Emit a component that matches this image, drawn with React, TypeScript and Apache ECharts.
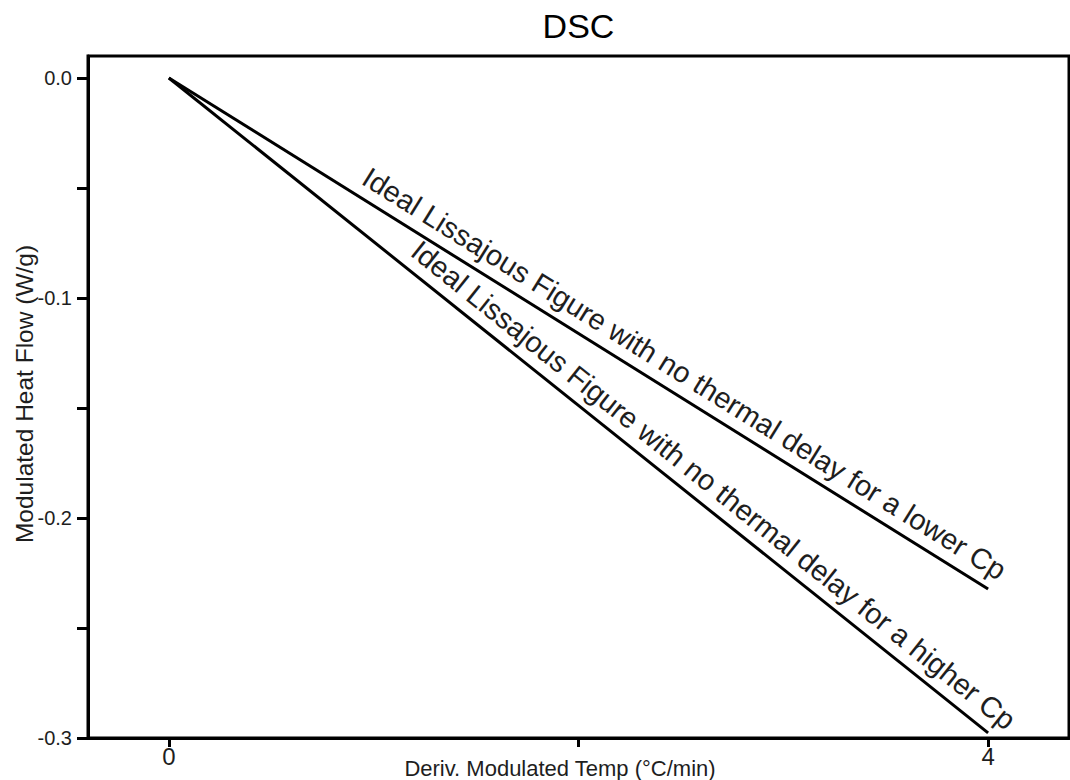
import React, { useEffect, useRef } from 'react';
import * as echarts from 'echarts';

const titleText = 'DSC';
const xAxisTitle = 'Deriv. Modulated Temp (°C/min)';
const yAxisTitle = 'Modulated Heat Flow (W/g)';
const xLabelValues = [0, 4];
const xTickValues = [0, 2, 4];
const yLabelValues = [-0.3, -0.2, -0.1, 0];
const yTickValues = [-0.3, -0.25, -0.2, -0.15, -0.1, -0.05, 0];
const lowerCpLine = [
  [0, 0],
  [4, -0.2323],
];
const higherCpLine = [
  [0, 0],
  [4, -0.2977],
];
const lowerCpLabel = 'Ideal Lissajous Figure with no thermal delay for a lower Cp';
const higherCpLabel = 'Ideal Lissajous Figure with no thermal delay for a higher Cp';

const FONT = '"Liberation Sans", Arial, Helvetica, sans-serif';
const TEXT_COLOR = '#1e1e1e';

export default function App() {
  const ref = useRef<HTMLDivElement>(null);

  useEffect(() => {
    if (!ref.current) return;
    const chart = echarts.init(ref.current, undefined, { renderer: 'svg' });
    const grid = { left: 88, right: 1, top: 56, bottom: 42 };
    const option: any = {
      animation: false,
      backgroundColor: '#ffffff',
      grid: {
        ...grid,
        show: true,
        borderColor: '#000',
        borderWidth: 3,
        backgroundColor: 'transparent',
      },
      xAxis: {
        type: 'value',
        min: -0.395,
        max: 4.395,
        splitLine: { show: false },
        axisLine: { show: true, onZero: false, lineStyle: { color: '#000', width: 3 } },
        axisTick: {
          show: true,
          customValues: xTickValues,
          length: 9,
          lineStyle: { color: '#000', width: 3 },
        },
        axisLabel: {
          customValues: xLabelValues,
          fontFamily: FONT,
          fontSize: 24,
          color: TEXT_COLOR,
          margin: 6,
          formatter: (v: number) => String(v),
        },
      },
      yAxis: {
        type: 'value',
        min: -0.3,
        max: 0.01,
        splitLine: { show: false },
        axisLine: { show: true, onZero: false, lineStyle: { color: '#000', width: 3 } },
        axisTick: {
          show: true,
          customValues: yTickValues,
          length: 11,
          lineStyle: { color: '#000', width: 3 },
        },
        axisLabel: {
          customValues: yLabelValues,
          fontFamily: FONT,
          fontSize: 20,
          color: TEXT_COLOR,
          margin: 16,
          formatter: (v: number) => v.toFixed(1),
        },
      },
      series: [
        {
          type: 'line',
          name: 'lower Cp',
          data: lowerCpLine,
          showSymbol: false,
          symbol: 'none',
          lineStyle: { color: '#000', width: 3 },
        },
        {
          type: 'line',
          name: 'higher Cp',
          data: higherCpLine,
          showSymbol: false,
          symbol: 'none',
          lineStyle: { color: '#000', width: 3 },
        },
      ],
    };
    chart.setOption(option);

    const px = (p: number[]) => chart.convertToPixel({ gridIndex: 0 }, p) as number[];
    const alongLabel = (line: number[][], t: number, offset: number, text: string) => {
      const a = px(line[0]);
      const b = px(line[1]);
      const dx = b[0] - a[0];
      const dy = b[1] - a[1];
      const len = Math.sqrt(dx * dx + dy * dy);
      const angle = Math.atan2(dy, dx);
      const x = a[0] + t * dx + (offset * dy) / len;
      const y = a[1] + t * dy - (offset * dx) / len;
      return {
        type: 'text',
        x,
        y,
        rotation: -angle,
        style: {
          text,
          fontFamily: FONT,
          fontSize: 29,
          fill: TEXT_COLOR,
          align: 'center',
          verticalAlign: 'middle',
        },
      };
    };

    const gLeft = grid.left;
    const gRight = 1070 - grid.right;
    const gTop = grid.top;
    const gBottom = 780 - grid.bottom;

    chart.setOption({
      graphic: [
        {
          type: 'text',
          x: (gLeft + gRight) / 2,
          y: 26,
          style: {
            text: titleText,
            fontFamily: FONT,
            fontSize: 34,
            fill: '#000',
            align: 'center',
            verticalAlign: 'middle',
          },
        },
        {
          type: 'text',
          x: 560,
          y: 768,
          style: {
            text: xAxisTitle,
            fontFamily: FONT,
            fontSize: 22,
            fill: TEXT_COLOR,
            align: 'center',
            verticalAlign: 'middle',
          },
        },
        {
          type: 'text',
          x: 24,
          y: (gTop + gBottom) / 2 - 3,
          rotation: Math.PI / 2,
          style: {
            text: yAxisTitle,
            fontFamily: FONT,
            fontSize: 24.5,
            fill: TEXT_COLOR,
            align: 'center',
            verticalAlign: 'middle',
          },
        },
        alongLabel(lowerCpLine, 0.615, 22, lowerCpLabel),
        alongLabel(higherCpLine, 0.648, 22, higherCpLabel),
      ],
    });

    return () => chart.dispose();
  }, []);

  return (
    <div
      ref={ref}
      style={{ position: 'absolute', left: 0, top: 0, width: 1070, height: 780, background: '#fff' }}
    />
  );
}
